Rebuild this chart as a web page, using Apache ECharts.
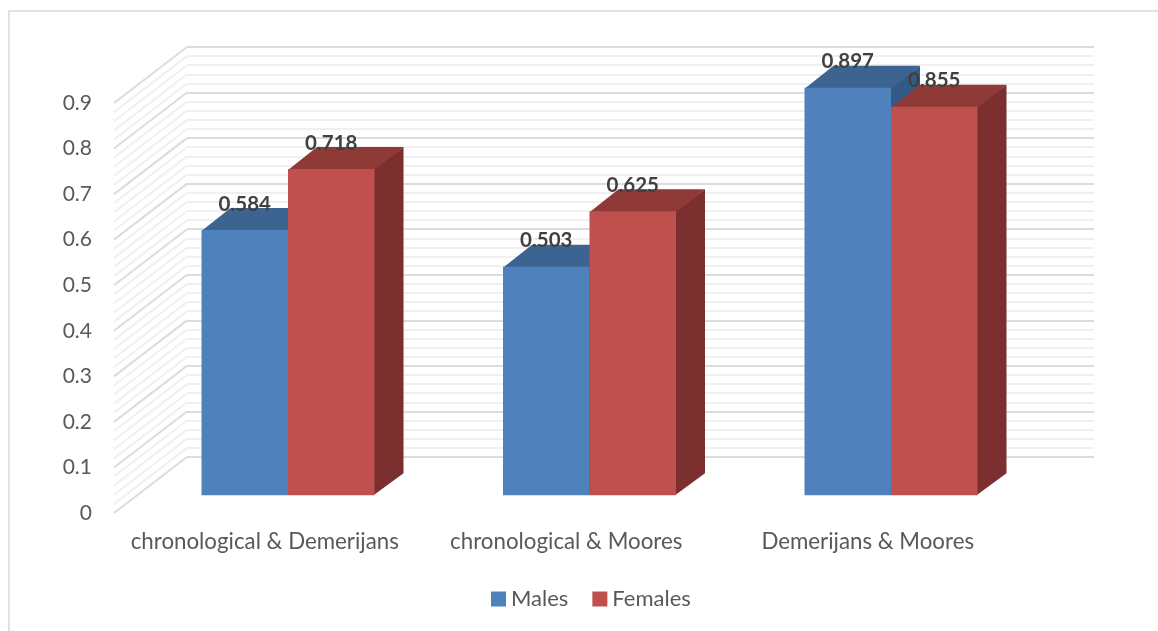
<!DOCTYPE html>
<html>
<head>
<meta charset="utf-8">
<title>ECharts</title>
<style>
    html,body{margin:0;padding:0;background:#fff;overflow:hidden;}
    #main{width:1158px;height:631px;}
</style>
</head>
<body>
<div id="main"></div>
<script src="https://cdn.jsdelivr.net/npm/echarts@6/dist/echarts.min.js"></script>
<script type="text/javascript">
    var categories = ['chronological & Demerijans', 'chronological & Moores', 'Demerijans & Moores'];
    var males = [0.584, 0.503, 0.897];
    var females = [0.718, 0.625, 0.855];
    var yTicks = [0, 0.1, 0.2, 0.3, 0.4, 0.5, 0.6, 0.7, 0.8, 0.9];

    var fontName = 'Lato';
    var DEPTH_X = 29, DEPTH_Y = 22;   // bar depth on screen
    var BAR_W = 86.5;

    // side wall lines: every tick plus the 4 light ones above it
    var wallLines = [];
    yTicks.forEach(function(t, i){
        wallLines.push([t, 1]);
        if(i < yTicks.length - 1){
            for(var k = 1; k < 5; k++){
                wallLines.push([t + k * 0.02, 0]);
            }
        }
    });

    function renderWall(params, api){
        var y = api.coord([0, api.value(0)])[1];
        var x0 = params.coordSys.x;
        var major = api.value(1) === 1;
        return {
            type: 'line',
            shape: {x1: x0, y1: y, x2: x0 + 73, y2: y - 56},
            style: {stroke: major ? '#dcdcdc' : '#f0f0f0', lineWidth: 2}
        };
    }

    function barRenderer(side, front, top, right){
        return function(params, api){
            var idx = api.value(0);
            var val = api.value(1);
            var p = api.coord([idx, val]);
            var base = api.coord([idx, 0])[1];
            var x = side < 0 ? p[0] - BAR_W : p[0];
            var y = p[1];
            var w = BAR_W;
            return {
                type: 'group',
                children: [
                    // side and top start 1px under the front face so no seam shows
                    {type: 'polygon', shape: {points: [[x + w - 1, y], [x + w + DEPTH_X, y - DEPTH_Y], [x + w + DEPTH_X, base - DEPTH_Y], [x + w - 1, base]]}, style: {fill: right}},
                    {type: 'polygon', shape: {points: [[x, y + 1], [x + DEPTH_X, y - DEPTH_Y], [x + w + DEPTH_X, y - DEPTH_Y], [x + w, y + 1]]}, style: {fill: top}},
                    {type: 'rect', shape: {x: x, y: y, width: w, height: base - y}, style: {fill: front}},
                    {type: 'text', x: x + w / 2, y: y - 26, style: {text: String(val), fill: '#404040', align: 'center', verticalAlign: 'middle', font: 'bold 20.5px ' + fontName}}
                ]
            };
        };
    }

    function pairs(arr){
        return arr.map(function(v, i){ return [i, v]; });
    }

    var chart = echarts.init(document.getElementById('main'));
    chart.setOption({
        backgroundColor: '#fff',
        animation: false,
        color: ['#4F81BD', '#C0504D'],
        graphic: [{
            type: 'rect',
            shape: {x: 9, y: 11, width: 1300, height: 800},
            style: {fill: 'none', stroke: '#e2e2e2', lineWidth: 2},
            silent: true
        }],
        legend: {
            left: 486,
            top: 583,
            icon: 'rect',
            itemWidth: 15,
            itemHeight: 15,
            itemGap: 24,
            data: ['Males', 'Females'],
            textStyle: {color: '#595959', fontSize: 22, fontFamily: fontName}
        },
        grid: [
            // front plane: axis labels and side wall
            {left: 114, top: 103, width: 904.5, height: 410},
            // back wall
            {left: 187, top: 47, width: 907, height: 410},
            // plane the bars stand on
            {left: 137.25, top: 86.3, width: 904.5, height: 409}
        ],
        xAxis: [
            {
                type: 'category', gridIndex: 0, data: categories,
                axisLine: {show: false}, axisTick: {show: false},
                axisLabel: {interval: 0, margin: 18, color: '#595959', fontSize: 22.3, fontFamily: fontName}
            },
            {type: 'category', gridIndex: 1, data: categories, show: false},
            {type: 'category', gridIndex: 2, data: categories, show: false}
        ],
        yAxis: [
            {
                type: 'value', gridIndex: 0, min: 0, max: 0.9, interval: 0.1,
                axisLine: {show: false}, axisTick: {show: false}, splitLine: {show: false},
                axisLabel: {margin: 22, color: '#595959', fontSize: 21, fontFamily: fontName}
            },
            {
                type: 'value', gridIndex: 1, min: 0, max: 0.9, interval: 0.1,
                axisLine: {show: false}, axisTick: {show: false}, axisLabel: {show: false},
                splitLine: {show: true, lineStyle: {color: '#dcdcdc', width: 2}},
                minorTick: {show: false, splitNumber: 5},
                minorSplitLine: {show: true, lineStyle: {color: '#f0f0f0', width: 2}}
            },
            {type: 'value', gridIndex: 2, min: 0, max: 0.9, interval: 0.1, show: false, splitLine: {show: false}}
        ],
        series: [
            {
                type: 'custom', name: 'wall', xAxisIndex: 0, yAxisIndex: 0, silent: true,
                data: wallLines, encode: {y: 0}, renderItem: renderWall
            },
            {
                type: 'custom', name: 'Males', xAxisIndex: 2, yAxisIndex: 2,
                data: pairs(males), encode: {x: 0, y: 1},
                itemStyle: {color: '#4F81BD'},
                renderItem: barRenderer(-1, '#4F81BD', '#3D6491', '#335A87')
            },
            {
                type: 'custom', name: 'Females', xAxisIndex: 2, yAxisIndex: 2,
                data: pairs(females), encode: {x: 0, y: 1},
                itemStyle: {color: '#C0504D'},
                renderItem: barRenderer(1, '#C0504D', '#8F3A37', '#7B2F2E')
            }
        ]
    });
</script>
</body>
</html>
